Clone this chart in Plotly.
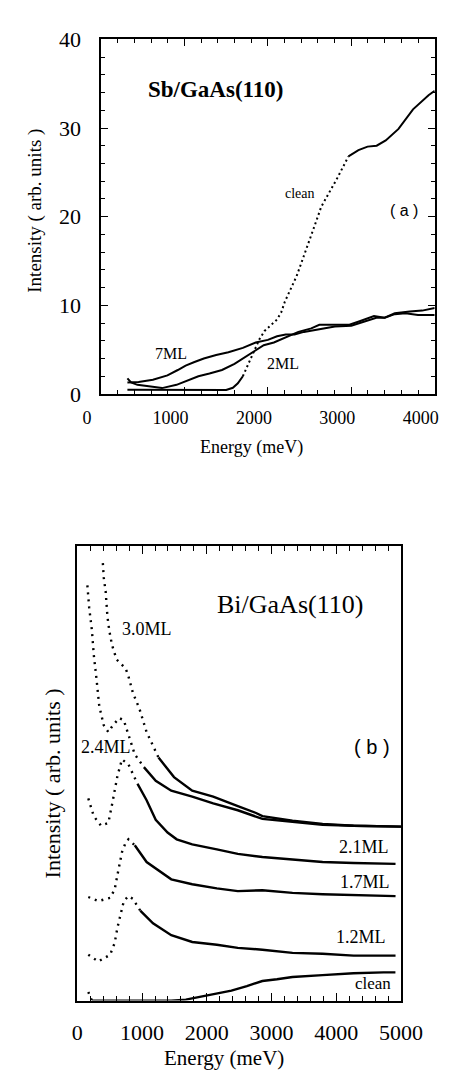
import plotly.graph_objects as go

# ---------------- Panel (a): Sb/GaAs(110) ----------------
A_CLEAN_E = [316, 700, 1100, 1500, 1580, 1640, 1700, 1760, 1830, 1900, 1960, 2030, 2110, 2160,
             2203, 2345, 2475, 2584, 2639, 2726, 2835, 2966, 3086, 3195, 3304, 3413, 3566,
             3740, 3926, 4000]
A_CLEAN_I = [0.48, 0.45, 0.42, 0.45, 0.7, 1.2, 2.0, 3.2, 4.8, 6.2, 7.1, 7.7, 8.4, 9.2,
             10.4, 13.3, 16.6, 19.6, 21.1, 22.5, 24.4, 26.8, 27.5, 27.9, 28.0, 28.6, 29.9,
             32.1, 33.7, 34.2]
A_7ML_E = [316, 450, 622, 796, 920, 1014, 1120, 1232, 1380, 1527, 1700, 1854, 2000, 2110,
           2214, 2320, 2432, 2600, 2803, 3000, 3162, 3300, 3400, 3522, 3650, 3800, 4000]
A_7ML_I = [1.3, 1.35, 1.6, 2.1, 2.7, 3.2, 3.6, 4.0, 4.4, 4.7, 5.2, 5.8, 6.1, 6.5,
           6.7, 6.7, 7.0, 7.3, 7.6, 7.7, 8.2, 8.6, 8.6, 9.0, 9.1, 8.9, 8.9]
A_2ML_E = [316, 360, 436, 600, 731, 905, 1050, 1167, 1300, 1450, 1600, 1778, 1950, 2072,
           2200, 2366, 2520, 2617, 2750, 2868, 2977, 3100, 3272, 3400, 3522, 3700, 3850, 4000]
A_2ML_I = [1.76, 1.3, 1.03, 0.8, 0.66, 1.03, 1.6, 2.0, 2.3, 2.7, 3.4, 4.5, 5.5, 5.8,
           6.3, 7.0, 7.4, 7.8, 7.8, 7.8, 7.8, 8.2, 8.8, 8.6, 9.1, 9.3, 9.4, 9.7]
A_XTICKS = [0, 1000, 2000, 3000, 4000]
A_YTICKS = [0, 10, 20, 30, 40]

# ---------------- Panel (b): Bi/GaAs(110) ----------------
B_CLEAN_E = [169, 225, 600, 1000, 1450, 1676, 1915, 2154, 2380, 2619, 2858, 3084, 3323, 3788,
             4027, 4266, 4731, 4914]
B_CLEAN_I = [1.9, 0.0, 0.0, 0.0, 0.0, 0.2, 0.9, 1.5, 2.2, 3.2, 4.3, 4.7, 5.2, 5.6,
             5.8, 6.0, 6.2, 6.2]
B_12_E = [169, 324, 507, 577, 620, 676, 718, 789, 859, 972, 1169, 1451, 1775, 2155, 2479,
          2859, 3324, 3789, 4268, 4916]
B_12_I = [10.1, 8.6, 10.1, 12.7, 16.1, 19.8, 21.9, 23.0, 22.4, 19.8, 17.0, 14.4, 12.9, 12.3,
          11.6, 11.2, 10.5, 10.3, 9.9, 9.9]
B_17_E = [169, 324, 507, 577, 620, 690, 747, 789, 887, 1070, 1451, 1775, 2155, 2479, 2859,
          3324, 3789, 4268, 4916]
B_17_I = [22.8, 21.9, 22.6, 24.5, 27.7, 32.7, 34.8, 35.5, 34.2, 30.5, 26.7, 25.6, 24.7, 24.1,
          24.3, 23.7, 23.4, 23.2, 23.0]
B_21_E = [169, 254, 366, 479, 549, 620, 690, 789, 930, 1070, 1211, 1394, 1535, 1775, 2155,
          2479, 2859, 3324, 3789, 4268, 4916]
B_21_I = [44.5, 40.6, 38.5, 39.1, 44.1, 49.5, 53.1, 52.0, 47.7, 44.1, 39.8, 37.0, 35.5, 34.4,
          33.3, 32.3, 31.6, 31.0, 30.5, 30.3, 30.1]
B_24_E = [155, 183, 225, 254, 296, 338, 408, 479, 549, 648, 718, 789, 887, 1028, 1211, 1451,
          1775, 2099, 2479, 2859, 3324, 3789, 4268, 5000]
B_24_I = [91.4, 86.5, 81.5, 76.1, 70.8, 64.9, 60.6, 59.1, 60.6, 62.2, 61.7, 58.5, 54.2, 51.4,
          48.4, 46.2, 44.9, 43.4, 41.9, 40.0, 39.4, 38.7, 38.5, 38.3]
B_30_E = [394, 408, 437, 465, 493, 535, 606, 676, 747, 789, 859, 958, 1070, 1254, 1493, 1775,
          2099, 2479, 2761, 2859, 3324, 3789, 4268, 5000]
B_30_I = [96.3, 93.1, 90.1, 84.5, 81.5, 78.3, 75.1, 74.2, 73.1, 71.4, 67.7, 64.3, 59.1, 53.5,
          49.2, 46.2, 44.9, 42.8, 41.3, 40.6, 39.6, 38.9, 38.5, 38.3]
B_XTICKS = [0, 1000, 2000, 3000, 4000, 5000]

W, H = 464, 1080
SERIF = "Liberation Serif"
SANS = "Liberation Sans"


def px(x):
    return x / W


def py(y):
    return 1 - y / H


fig = go.Figure()

DOT = "2px,5px"


def seg(xs, ys, lo, hi, dash, xa, ya, width):
    xx = [x for x in xs if lo <= x <= hi]
    yy = [y for x, y in zip(xs, ys) if lo <= x <= hi]
    fig.add_trace(go.Scatter(x=xx, y=yy, mode="lines", xaxis=xa, yaxis=ya,
                             line=dict(color="black", width=width, dash=dash),
                             showlegend=False, hoverinfo="skip"))


# panel (a)
seg(A_CLEAN_E, A_CLEAN_I, 0, 1700, "solid", "x", "y", 2.0)
seg(A_CLEAN_E, A_CLEAN_I, 1700, 2966, "2px,3px", "x", "y", 2.0)
seg(A_CLEAN_E, A_CLEAN_I, 2966, 5000, "solid", "x", "y", 2.0)
seg(A_7ML_E, A_7ML_I, 0, 5000, "solid", "x", "y", 2.0)
seg(A_2ML_E, A_2ML_I, 0, 5000, "solid", "x", "y", 2.0)

# panel (b)  (dotted at low energy, dense/solid above)
B_SPLIT = [(B_CLEAN_E, B_CLEAN_I, 225), (B_12_E, B_12_I, 972), (B_17_E, B_17_I, 887),
           (B_21_E, B_21_I, 930), (B_24_E, B_24_I, 1028), (B_30_E, B_30_I, 1254)]
for xs, ys, split in B_SPLIT:
    seg(xs, ys, 0, split, DOT, "x2", "y2", 2.4)
    seg(xs, ys, split, 6000, "solid", "x2", "y2", 2.4)

axis_common = dict(showline=True, linecolor="black", linewidth=1.5, mirror="allticks",
                   ticks="inside", tickcolor="black", showgrid=False, zeroline=False)

fig.update_layout(
    width=W, height=H, margin=dict(l=0, r=0, t=0, b=0),
    paper_bgcolor="white", plot_bgcolor="white",
    xaxis=dict(domain=[px(90), px(456)], range=[0, 4000], anchor="y",
               tickvals=A_XTICKS, ticktext=[str(v) for v in A_XTICKS], ticklen=7, tickwidth=1.2,
               minor=dict(dtick=200, ticklen=4, tickcolor="black", ticks="inside", tickwidth=1),
               tickfont=dict(family=SERIF, size=18, color="black"),
               ticklabelshift=-14, ticklabelstandoff=7, **axis_common),
    yaxis=dict(domain=[py(391), py(28)], range=[0, 40], anchor="x",
               tickvals=A_YTICKS, ticktext=[str(v) for v in A_YTICKS], ticklen=7, tickwidth=1.2,
               minor=dict(dtick=2, ticklen=4, tickcolor="black", ticks="inside", tickwidth=1),
               tickfont=dict(family=SERIF, size=22, color="black"),
               ticklabelstandoff=14, **axis_common),
    xaxis2=dict(domain=[px(64), px(419)], range=[0, 5000], anchor="y2",
                tickvals=B_XTICKS, ticktext=[str(v) for v in B_XTICKS], ticklen=8, tickwidth=1.2,
                minor=dict(dtick=200, ticklen=5, tickcolor="black", ticks="inside", tickwidth=1),
                tickfont=dict(family=SERIF, size=22, color="black"),
                ticklabelstandoff=11, **axis_common),
    yaxis2=dict(domain=[py(1012), py(547)], range=[0, 100], anchor="x2",
                showline=True, linecolor="black", linewidth=1.5, mirror=True,
                ticks="", showticklabels=False, showgrid=False, zeroline=False),
)


def ann(text, x, y, size, family=SERIF, angle=0, bold=False):
    if bold:
        text = "<b>" + text + "</b>"
    fig.add_annotation(text=text, x=px(x), y=py(y), xref="paper", yref="paper",
                       showarrow=False, xanchor="center", yanchor="middle", textangle=angle,
                       font=dict(family=family, size=size, color="black"))


# panel (a) texts
ann("Sb/GaAs(110)", 216, 79, 23, bold=True)
ann("clean", 308, 186, 14)
ann("( a )", 422, 203, 16, family=SANS)
ann("7ML", 167, 350, 16)
ann("2ML", 290, 360, 16)
ann("Intensity ( arb. units )", 18, 203, 19, angle=-90)
ann("Energy (meV)", 255, 446, 18)

# panel (b) texts
ann("Bi/GaAs(110)", 297, 607, 26)
ann("3.0ML", 140, 632, 18)
ann("2.4ML", 95, 752, 18)
ann("( b )", 387, 752, 20, family=SANS)
ann("2.1ML", 378, 855, 18)
ann("1.7ML", 380, 891, 18)
ann("1.2ML", 375, 947, 18)
ann("clean", 388, 995, 17)
ann("Intensity ( arb. units )", 37, 790, 22, angle=-90)
ann("Energy (meV)", 225, 1071, 21)

fig.write_html("out.html", config={"displayModeBar": False},
               post_script="document.body.style.margin='0';")
